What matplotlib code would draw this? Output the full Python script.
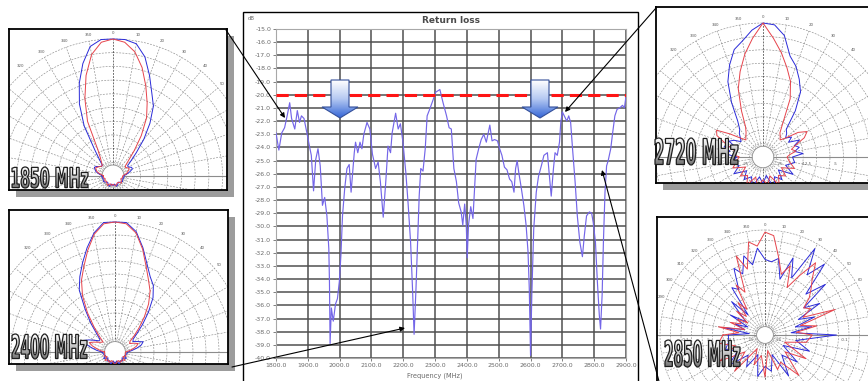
import numpy as np
from matplotlib import pyplot as plt
from matplotlib.patches import Rectangle, Polygon, PathPatch, Circle
from matplotlib.textpath import TextPath
from matplotlib.font_manager import FontProperties, fontManager
from matplotlib.transforms import Affine2D
from matplotlib.colors import LinearSegmentedColormap

W, H = 868, 381

# return loss curve (MHz, dB)
freq = [1800, 1809, 1818, 1827, 1835, 1843, 1849, 1859, 1867, 1874, 1880, 1888, 1898, 1905, 1911,
        1918, 1925, 1932, 1939, 1946, 1953, 1960, 1966, 1968, 1970, 1974, 1980, 1987, 1993, 1999,
        2004, 2009, 2016, 2023, 2030, 2036, 2041, 2046, 2050, 2057, 2064, 2070, 2076, 2086, 2095,
        2103, 2113, 2121, 2128, 2137, 2145, 2152, 2160, 2165, 2171, 2176, 2184, 2191, 2199, 2208,
        2215, 2223, 2229, 2234, 2240, 2245, 2250, 2255, 2262, 2269, 2275, 2283, 2292, 2302, 2315,
        2325, 2336, 2344, 2351, 2355, 2359, 2367, 2374, 2382, 2387, 2393, 2398, 2401, 2405, 2412,
        2419, 2424, 2429, 2437, 2445, 2453, 2461, 2466, 2472, 2479, 2487, 2496, 2503, 2510, 2518,
        2526, 2534, 2541, 2548, 2553, 2558, 2563, 2571, 2579, 2586, 2592, 2596, 2600, 2604, 2610,
        2618, 2625, 2635, 2642, 2653, 2659, 2665, 2672, 2677, 2684, 2691, 2695, 2700, 2706, 2714,
        2720, 2726, 2732, 2740, 2747, 2755, 2763, 2769, 2776, 2785, 2792, 2797, 2804, 2810, 2816,
        2820, 2825, 2829, 2834, 2839, 2844, 2852, 2858, 2865, 2872, 2880, 2889, 2895, 2900]
rl = [-22.9, -24.2, -22.9, -22.5, -21.6, -20.6, -21.8, -22.6, -21.2, -22.1, -21.6, -21.8, -23.0, -23.9, -24.6,
      -27.3, -24.9, -24.1, -25.4, -28.4, -27.8, -29.2, -31.7, -34.2, -38.9, -36.2, -37.2, -35.9, -35.5, -34.2,
      -32.2, -29.2, -27.1, -25.6, -25.3, -27.4, -25.9, -24.4, -23.6, -24.4, -23.6, -24.1, -23.0, -22.1, -22.6,
      -24.5, -25.6, -25.1, -26.6, -29.3, -26.6, -23.9, -24.4, -22.9, -22.1, -21.4, -22.6, -22.2, -23.6, -25.9,
      -28.2, -31.2, -34.7, -38.2, -34.7, -31.2, -27.7, -25.6, -25.8, -24.1, -21.6, -21.1, -20.5, -19.8, -19.6,
      -20.6, -21.6, -22.5, -22.6, -24.1, -25.6, -26.6, -28.2, -28.9, -29.9, -28.3, -29.9, -32.4, -29.9, -28.5,
      -29.4, -27.1, -24.9, -24.1, -23.4, -23.0, -23.6, -23.0, -22.3, -23.5, -23.4, -23.5, -24.1, -24.6, -25.5,
      -25.7, -26.4, -26.6, -27.4, -25.6, -25.0, -25.9, -27.1, -28.4, -29.9, -31.9, -34.7, -39.8, -35.2, -30.2,
      -27.4, -26.2, -25.3, -24.6, -24.4, -26.1, -27.7, -25.6, -24.4, -24.6, -23.6, -22.1, -21.3, -21.6, -22.0,
      -21.6, -22.1, -24.1, -26.6, -29.2, -31.2, -32.3, -30.7, -29.2, -28.9, -29.0, -29.7, -31.2, -34.2, -36.7,
      -37.8, -35.2, -31.2, -27.4, -25.4, -25.0, -24.1, -22.9, -21.6, -21.1, -21.0, -20.8, -21.0, -20.1]
limit_db = -20.0

# radiation patterns, normalised radius, front -90..90 every 5 deg, back 100..260 every 10 deg
ang_front = list(range(-90, 95, 5))
ang_back = list(range(100, 270, 10))

p1850_blue = [.08, .09, .11, .13, .14, .15, .14, .12, .11, .11, .15, .23, .42, .58, .72, .85, .96, 1.0, 1.0,
              1.0, .98, .90, .78, .67, .59, .47, .35, .24, .17, .13, .13, .15, .15, .13, .11, .09, .08]
p1850_red = [.07, .08, .10, .12, .13, .14, .13, .12, .11, .11, .13, .16, .22, .44, .60, .76, .90, .98, 1.0,
             .98, .92, .82, .70, .59, .49, .36, .24, .16, .12, .11, .12, .13, .12, .11, .10, .08, .07]
p1850_blue_back = [.08, .07, .08, .07, .06, .07, .08, .06, .07, .06, .08, .07, .06, .07, .08, .07, .08]
p1850_red_back = [.07, .06, .07, .08, .06, .06, .07, .07, .06, .07, .06, .08, .07, .06, .07, .06, .07]

p2400_blue = [.10, .14, .18, .23, .26, .22, .18, .15, .15, .20, .29, .40, .55, .64, .73, .83, .93, 1.0, 1.0,
              1.0, .94, .83, .72, .64, .59, .51, .40, .30, .22, .17, .16, .19, .23, .21, .17, .13, .10]
p2400_red = [.08, .11, .14, .18, .21, .18, .15, .13, .12, .17, .25, .37, .50, .61, .70, .81, .92, .99, 1.0,
             .99, .93, .82, .70, .61, .54, .45, .35, .26, .19, .14, .13, .16, .19, .17, .14, .11, .08]
p2400_blue_back = [.09, .08, .10, .07, .09, .08, .10, .07, .09, .07, .10, .08, .09, .07, .10, .08, .09]
p2400_red_back = [.08, .09, .07, .10, .08, .09, .07, .08, .10, .08, .07, .09, .08, .10, .07, .09, .08]

p2720_blue = [.20, .28, .25, .30, .22, .28, .25, .20, .22, .25, .27, .33, .47, .62, .73, .83, .88, .95, 1.0,
              .99, .92, .78, .72, .64, .56, .42, .27, .25, .22, .26, .22, .30, .25, .28, .24, .30, .22]
p2720_red = [.18, .22, .20, .24, .30, .38, .40, .30, .22, .18, .20, .22, .26, .38, .54, .66, .78, .89, 1.0,
             .89, .79, .69, .60, .48, .30, .22, .20, .18, .22, .32, .38, .34, .26, .22, .25, .20, .18]
p2720_blue_back = [.24, .18, .26, .15, .22, .17, .25, .14, .20, .15, .24, .17, .22, .16, .25, .19, .23]
p2720_red_back = [.20, .25, .16, .22, .18, .24, .15, .21, .17, .22, .16, .24, .18, .22, .15, .24, .20]

p2850_blue = [.35, .15, .40, .20, .30, .18, .38, .22, .30, .45, .25, .55, .50, .70, .62, .78, .68, .83, .72,
              .70, .74, .55, .78, .60, .95, .70, .88, .55, .75, .45, .60, .35, .50, .30, .45, .25, .68]
p2850_red = [.40, .25, .45, .20, .35, .25, .30, .20, .35, .25, .40, .30, .55, .45, .80, .65, .90, .85, .98,
             .95, .75, .60, .70, .50, .65, .84, .70, .62, .55, .45, .50, .40, .71, .35, .50, .30, .45]
p2850_blue_back = [.30, .45, .20, .40, .25, .45, .20, .35, .30, .40, .20, .35, .25, .45, .30, .40, .35]
p2850_red_back = [.40, .20, .45, .25, .50, .30, .35, .15, .40, .20, .30, .15, .45, .25, .50, .30, .45]

BLUE = '#2a2ad8'
RED = '#e6434b'


def fig_rect(x0, y0, x1, y1):
    return [x0 / W, 1 - y1 / H, (x1 - x0) / W, (y1 - y0) / H]


fig = plt.figure(figsize=(W / 100, H / 100), dpi=100)

# background layer: frames and shadows, in pixel coords
bg = fig.add_axes([0, 0, 1, 1], zorder=0)
bg.set_xlim(0, W)
bg.set_ylim(H, 0)
bg.axis('off')
bg.add_patch(Rectangle((243, 12), 395, 385, fc='white', ec='black', lw=1))
for (x0, y0, x1, y1) in [(9, 29, 227, 190), (9, 210, 228, 364), (656, 7, 875, 183)]:
    bg.add_patch(Rectangle((x0 + 7, y0 + 7), x1 - x0, y1 - y0, fc='#9c9c9c', ec='none'))

# main return loss chart
ax = fig.add_axes(fig_rect(276, 29, 626, 358), zorder=2)
ax.plot(freq, rl, color='#7466e8', lw=0.85, zorder=3)
ax.axhline(limit_db, color='#ff1414', lw=2.2, dashes=(4, 2), zorder=4)
ax.set_xlim(1800, 2900)
ax.set_ylim(-40, -15)
xt = list(range(1800, 2901, 100))
ax.set_xticks(xt)
ax.set_xticklabels([f'{v:.1f}' for v in xt])
yt = list(range(-40, -14))
ax.set_yticks(yt)
ax.set_yticklabels([f'{v:.1f}' for v in yt])
ax.grid(True, color='#4f4f4f', lw=1.1)
ax.tick_params(labelsize=4.5, colors='#6a6a6a', length=2.5, width=0.6, pad=1)
for s in ax.spines.values():
    s.set_color('#a8a8a8')
ax.set_title('Return loss', fontsize=6.5, fontweight='bold', color='#4a4a4a', pad=4)
fig.text(248 / W, 1 - 18 / H, 'dB', fontsize=3.8, color='#6a6a6a', va='center')
fig.text(435 / W, 1 - 376 / H, 'Frequency (MHz)', fontsize=4.8, color='#6a6a6a', ha='center', va='center')


def polar_inset(frame, center, R, fb, fr, bb, br):
    x0, y0, x1, y1 = frame
    cx, cy = center
    pa = fig.add_axes(fig_rect(x0, y0, x1, y1), zorder=3)
    pa.set_facecolor('white')
    xl = ((x0 - cx) / R, (min(x1, W) - cx) / R)
    yl = ((cy - min(y1, H)) / R, (cy - y0) / R)
    pa.set_xlim((x0 - cx) / R, (x1 - cx) / R)
    pa.set_ylim((cy - y1) / R, (cy - y0) / R)
    pa.set_xticks([])
    pa.set_yticks([])
    for s in pa.spines.values():
        s.set_linewidth(1.3)
        s.set_color('black')

    def inside(x, y, m=0.03):
        return xl[0] + m < x < xl[1] - m and yl[0] + m < y < yl[1] - 0.015

    t = np.linspace(0, 2 * np.pi, 300)
    for r in np.arange(0.1, 1.01, 0.1):
        pa.plot(r * np.sin(t), r * np.cos(t), color='#8c8c8c', lw=0.45, ls=(0, (3, 2)))
    for a in range(0, 360, 10):
        th = np.radians(a)
        c = '#202020' if a in (0, 180) else '#8c8c8c'
        pa.plot([0.08 * np.sin(th), np.sin(th)], [0.08 * np.cos(th), np.cos(th)],
                color=c, lw=0.45, ls=(0, (3, 2)))
        lx, ly = 1.045 * np.sin(th), 1.045 * np.cos(th)
        if (a <= 90 or a >= 270) and inside(lx, ly):
            pa.text(lx, ly, str(a), fontsize=2.8, color='#555555', ha='center', va='center')
    pa.axhline(0, color='#8c8c8c', lw=0.8)
    for rr, lab in zip([0.13, 0.33, 0.54, 0.76], ['-25', '-12.5', '-5', '-0.1']):
        for sx in (1, -1):
            if inside(sx * rr, -0.05, 0.08):
                pa.text(sx * rr, -0.05, lab, fontsize=2.8, color='#555555', ha='center', va='center')
    pa.add_patch(Circle((0, 0), 0.08, fc='white', ec='#909090', lw=0.6, zorder=2))
    angs = np.radians(ang_front + ang_back + [270])
    for vf, vb, col in [(fb, bb, BLUE), (fr, br, RED)]:
        r = np.array(vf + vb + [vf[0]])
        pa.plot(r * np.sin(angs), r * np.cos(angs), color=col, lw=0.7, zorder=3)
    return pa


polar_inset((9, 29, 227, 190), (113, 176), 137, p1850_blue, p1850_red, p1850_blue_back, p1850_red_back)
polar_inset((9, 210, 228, 364), (115, 352), 130, p2400_blue, p2400_red, p2400_blue_back, p2400_red_back)
polar_inset((656, 7, 875, 183), (763, 157), 134, p2720_blue, p2720_red, p2720_blue_back, p2720_red_back)
polar_inset((657, 217, 875, 390), (765, 335), 105, p2850_blue, p2850_red, p2850_blue_back, p2850_red_back)

# foreground layer: arrows, pointers and frequency labels
fg = fig.add_axes([0, 0, 1, 1], zorder=5)
fg.axis('off')

blue_grad = LinearSegmentedColormap.from_list('bg', ['#ffffff', '#b4c8f2', '#3566d6'])
for cx in (340, 540):
    pts = [(cx - 9, 80), (cx + 9, 80), (cx + 9, 107), (cx + 18, 107), (cx, 118),
           (cx - 18, 107), (cx - 9, 107)]
    poly = Polygon(pts, closed=True, fc='none', ec='#34509a', lw=0.8, zorder=7)
    fg.add_patch(poly)
    im = fg.imshow(np.linspace(0, 1, 64).reshape(-1, 1), cmap=blue_grad, aspect='auto',
                   extent=(cx - 18, cx + 18, 118, 80), zorder=6)
    im.set_clip_path(poly)

for start, tip in [((226, 30), (285, 118)), ((656, 8), (565, 112)),
                   ((232, 367), (405, 328)), ((660, 385), (602, 170))]:
    fg.annotate('', xy=tip, xytext=start,
                arrowprops=dict(arrowstyle='-|>', color='black', lw=0.8, mutation_scale=7,
                                shrinkA=0, shrinkB=0))

names = {f.name for f in fontManager.ttflist}
fam = 'Liberation Sans Narrow' if 'Liberation Sans Narrow' in names else 'DejaVu Sans'
fp = FontProperties(family=fam, weight='bold')
metal = LinearSegmentedColormap.from_list('mt', ['#ffffff', '#c4c4c4', '#707070'])
for text, (x0, x1, ytop, ybase) in [('1850 MHz', (12, 88, 167, 188)), ('2400 MHz', (12, 87, 334, 359)),
                                    ('2720 MHz', (655, 738, 138, 165)), ('2850 MHz', (665, 740, 340, 367))]:
    tp = TextPath((0, 0), text, size=100, prop=fp)
    ext = tp.get_extents()
    tr = Affine2D().translate(-ext.x0, -ext.y0).scale((x1 - x0) / ext.width, -(ybase - ytop) / ext.height)
    path = tr.translate(x0, ybase).transform_path(tp)
    patch = PathPatch(path, fc='none', ec='#1e1e1e', lw=0.9, zorder=9)
    fg.add_patch(patch)
    im = fg.imshow(np.linspace(0, 1, 64).reshape(-1, 1), cmap=metal, aspect='auto',
                   extent=(x0, x1, ybase, ytop), zorder=8)
    im.set_clip_path(patch)

fg.set_xlim(0, W)
fg.set_ylim(H, 0)

fig.savefig('out.png', dpi=100)
